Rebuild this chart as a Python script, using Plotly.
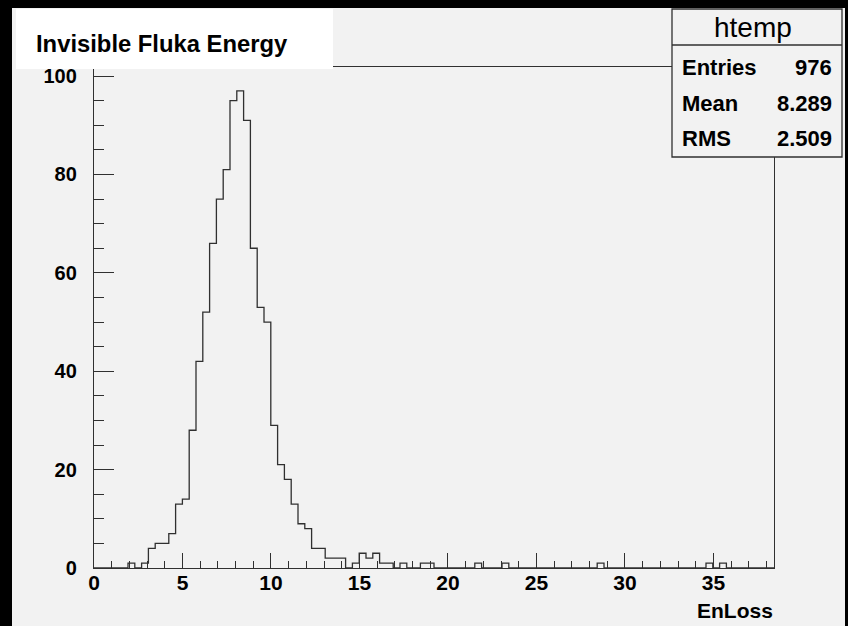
import plotly.graph_objects as go

# ---------------- data ----------------
n_bins = 100
x_min, x_max = 0.0, 38.42
counts = [
    0, 0, 0, 0, 0, 1, 0, 1, 4, 5,
    5, 7, 13, 14, 28, 42, 52, 66, 75, 81,
    95, 97, 91, 65, 53, 50, 29, 21, 18, 13,
    9, 8, 4, 4, 2, 2, 2, 0, 1, 3,
    2, 3, 1, 1, 0, 1, 0, 0, 1, 1,
    0, 0, 0, 0, 0, 0, 1, 0, 0, 0,
    1, 0, 0, 0, 0, 0, 0, 0, 0, 0,
    0, 0, 0, 0, 1, 0, 0, 0, 0, 0,
    0, 0, 0, 0, 0, 0, 0, 0, 0, 0,
    1, 0, 1, 0, 0, 0, 0, 0, 0, 0,
]
x_tick_vals = [0, 5, 10, 15, 20, 25, 30, 35]
y_tick_vals = [0, 20, 40, 60, 80, 100]
hist_name = "htemp"
stat_labels = ["Entries", "Mean", "RMS"]
stat_values = ["976", "8.289", "2.509"]
plot_title = "Invisible Fluka Energy"
x_title = "EnLoss"

# ---------------- geometry ----------------
W, H = 848, 626
L, R, T, B = 94, 74, 67, 58
PW, PH = W - L - R, H - T - B


def px(xp):
    return (xp - L) / PW


def py(yp):
    return (H - B - yp) / PH


width = (x_max - x_min) / n_bins
edges = [x_min + i * width for i in range(n_bins + 1)]
ys = counts + [counts[-1]]
y_max = max(counts) * 1.05

FONT = "Liberation Sans"
LINE = "#303030"

fig = go.Figure()
fig.add_trace(go.Scatter(
    x=edges, y=ys, mode="lines", line=dict(shape="hv", color=LINE, width=1.3),
    showlegend=False, hoverinfo="skip"))

shapes = [
    # canvas
    dict(type="rect", xref="paper", yref="paper", x0=px(12), x1=px(845), y0=py(8), y1=py(640),
         fillcolor="#f2f2f2", line=dict(width=0), layer="below"),
    # title box
    dict(type="rect", xref="paper", yref="paper", x0=px(16), x1=px(333), y0=py(69), y1=py(9),
         fillcolor="white", line=dict(width=0), layer="above"),
    # stats box
    dict(type="rect", xref="paper", yref="paper", x0=px(672), x1=px(842), y0=py(157), y1=py(9),
         fillcolor="#f2f2f2", line=dict(width=1.3, color=LINE), layer="above"),
    dict(type="line", xref="paper", yref="paper", x0=px(672), x1=px(842), y0=py(45), y1=py(45),
         line=dict(width=1.3, color=LINE), layer="above"),
]

annotations = [
    dict(text=plot_title, xref="paper", yref="paper", x=px(34), y=py(44), xanchor="left", yanchor="middle",
         showarrow=False, font=dict(family=FONT, size=23.8, color="black", weight="bold")),
    dict(text=x_title, xref="paper", yref="paper", x=px(775), y=py(610), xanchor="right", yanchor="middle",
         showarrow=False, font=dict(family=FONT, size=21, color="black", weight="bold")),
    dict(text=hist_name, xref="paper", yref="paper", x=px(753), y=py(27), xanchor="center", yanchor="middle",
         showarrow=False, font=dict(family=FONT, size=28, color="black")),
]
row_y = [67, 103, 138]
for lab, val, yy in zip(stat_labels, stat_values, row_y):
    annotations.append(dict(text=lab, xref="paper", yref="paper", x=px(680), y=py(yy), xanchor="left",
                            yanchor="middle", showarrow=False,
                            font=dict(family=FONT, size=22, color="black", weight="bold")))
    annotations.append(dict(text=val, xref="paper", yref="paper", x=px(834), y=py(yy), xanchor="right",
                            yanchor="middle", showarrow=False,
                            font=dict(family=FONT, size=22, color="black", weight="bold")))

fig.update_layout(
    width=W, height=H,
    margin=dict(l=L, r=R, t=T, b=B, pad=0),
    paper_bgcolor="black", plot_bgcolor="#f2f2f2",
    shapes=shapes, annotations=annotations,
    xaxis=dict(range=[x_min, x_max], tickvals=x_tick_vals, ticks="inside", ticklen=15, tickwidth=1,
               tickcolor=LINE, showgrid=False, zeroline=False, showline=True, linecolor=LINE, linewidth=1.3,
               mirror=True, tickfont=dict(family=FONT, size=21, color="black", weight="bold"),
               ticklabelstandoff=-4,
               minor=dict(dtick=1, tick0=0, ticks="inside", ticklen=7, tickcolor=LINE, tickwidth=1,
                          showgrid=False)),
    yaxis=dict(range=[0, y_max], tickvals=y_tick_vals, ticks="inside", ticklen=20, tickwidth=1,
               tickcolor=LINE, showgrid=False, zeroline=False, showline=True, linecolor=LINE, linewidth=1.3,
               mirror=True, tickfont=dict(family=FONT, size=20, color="black", weight="bold"),
               ticklabelstandoff=12,
               minor=dict(dtick=5, tick0=0, ticks="inside", ticklen=10, tickcolor=LINE, tickwidth=1,
                          showgrid=False)),
)

fig.write_html("out.html")
